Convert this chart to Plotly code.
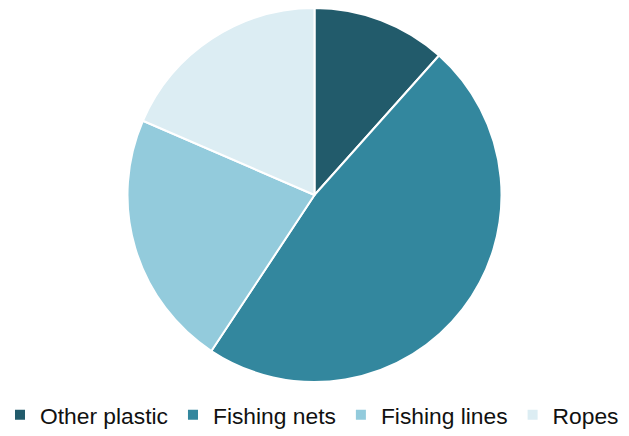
import plotly.graph_objects as go

labels = ["Other plastic", "Fishing nets", "Fishing lines", "Ropes"]
values = [11.6, 47.7, 22.2, 18.5]
colors = ["#225B6B", "#33879E", "#93CBDC", "#DCEDF3"]

W, H = 629, 436
fig = go.Figure(go.Pie(
    labels=labels, values=values, sort=False, direction="clockwise", rotation=0,
    marker=dict(colors=colors, line=dict(color="white", width=2)),
    textinfo="none", hoverinfo="label+percent",
    domain=dict(x=[0, 1], y=[1 - 382 / H, 1 - 8 / H]),
))
fig.update_layout(
    width=W, height=H, margin=dict(l=0, r=0, t=0, b=0, autoexpand=False),
    paper_bgcolor="white", plot_bgcolor="white",
    font=dict(family="Liberation Sans, Arial, sans-serif", size=22.8, color="#111111"),
    showlegend=True,
    legend=dict(orientation="h", x=0, xanchor="left", y=1 - 415 / H, yanchor="middle",
                font=dict(size=22.8), itemwidth=30, tracegroupgap=0),
)
fig.write_html("out.html")
